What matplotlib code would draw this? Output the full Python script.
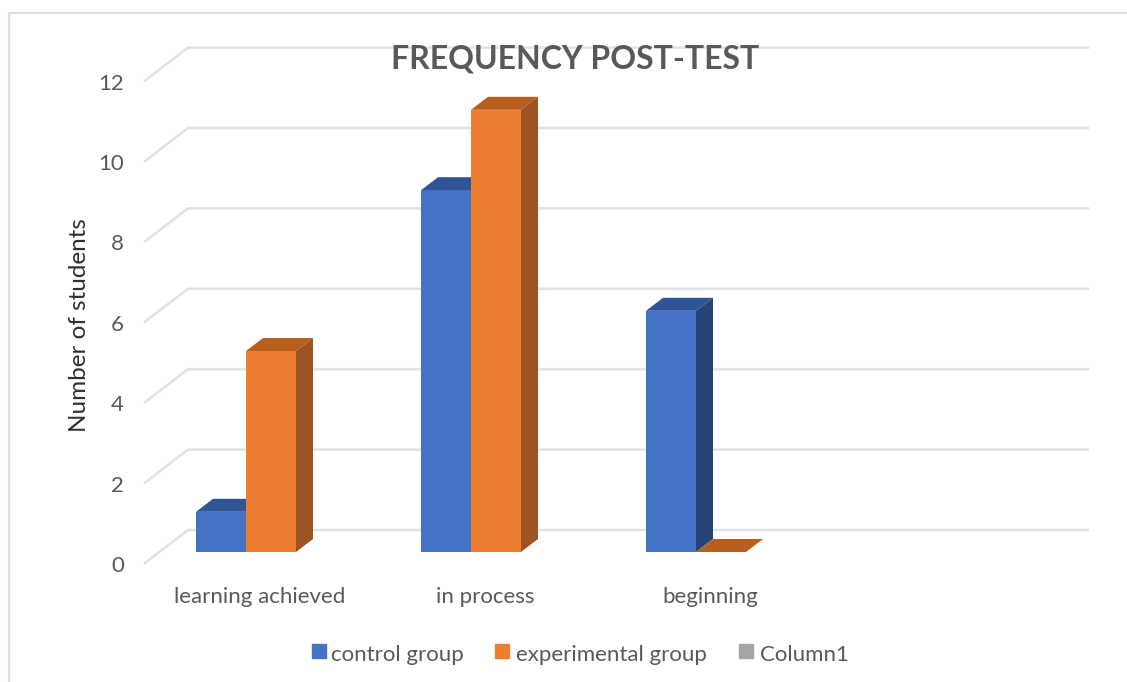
import matplotlib
matplotlib.use("Agg")
import matplotlib.pyplot as plt

categories = ["learning achieved", "in process", "beginning"]
control = [1, 9, 6]
experimental = [5, 11, 0]
y_ticks = [0, 2, 4, 6, 8, 10, 12]
series_names = ["control group", "experimental group", "Column1"]

plt.rcParams["font.family"] = ["Lato", "DejaVu Sans"]
W, H = 1127, 682
GREY = "#595959"

fig = plt.figure(figsize=(W / 100, H / 100), dpi=100)
ax = fig.add_axes([0, 0, 1, 1])

# one category is 225 px, one unit on y about 40.2 px, zero sits at y=552 px
ux = 225.0
uy = 40.2
ax.set_xlim(-246 / ux, (W - 246) / ux)
ax.set_ylim(-(H - 552) / uy, 552 / uy)
ax.axis("off")

# how far the 3d depth shifts things
bar_dx, bar_dy = 17 / ux, 13 / uy
wall_dx, wall_dy = 43 / ux, 33 / uy
wall_x0 = (145 - 246) / ux
wall_len = 900 / ux
floor = -11 / uy

# gridlines, side wall part then back wall part
for v in y_ticks:
    y0 = v + floor
    ax.plot([wall_x0, wall_x0 + wall_dx, wall_x0 + wall_dx + wall_len],
            [y0, y0 + wall_dy, y0 + wall_dy],
            color="#e2e2e2", lw=1.8, solid_joinstyle="miter", zorder=1)
    ax.text((124 - 246) / ux, v + floor - 3 / uy, str(v), ha="right", va="center",
            fontsize=16, color=GREY)


def bar3d(x0, h, front, top, side, z):
    w = 50 / ux
    ax.bar(x0, h, w, align="edge", color=front, zorder=z)
    ax.fill([x0, x0 + w, x0 + w + bar_dx, x0 + bar_dx],
            [h, h, h + bar_dy, h + bar_dy], color=top, lw=0, zorder=z)
    ax.fill([x0 + w, x0 + w + bar_dx, x0 + w + bar_dx, x0 + w],
            [0, bar_dy, h + bar_dy, h], color=side, lw=0, zorder=z)


for i in range(len(categories)):
    bar3d(i - 50 / ux, control[i], "#4472c4", "#2f5597", "#264478", 2 + i * 2)
    bar3d(i, experimental[i], "#ed7d31", "#b85f20", "#9e5421", 3 + i * 2)
    ax.text(i + 14 / ux, -45 / uy, categories[i], ha="center", va="center",
            fontsize=16, color=GREY)

fig.text(575 / W, 1 - 59 / H, "FREQUENCY POST-TEST", ha="center", va="center",
         fontsize=23, fontweight="bold", color=GREY)
fig.text(80 / W, 1 - 325 / H, "Number of students", rotation=90, ha="center",
         va="center", fontsize=17.5, color="#303030")

# legend by hand, excel spacing
legend_x = [312, 495, 739]
legend_text_x = [331, 516, 760]
legend_col = ["#4472c4", "#ed7d31", "#a5a5a5"]
for i in range(3):
    fig.patches.append(plt.Rectangle((legend_x[i] / W, 1 - 658 / H), 14 / W, 14 / H,
                                     transform=fig.transFigure, color=legend_col[i]))
    fig.text(legend_text_x[i] / W, 1 - 655 / H, series_names[i], va="center",
             fontsize=16, color=GREY)

# chart border, only top and left are in the crop
fig.add_artist(plt.Line2D([9 / W, 9 / W, 1], [0, 1 - 13 / H, 1 - 13 / H],
                          color="#dcdcdc", lw=1.5))

fig.savefig("out.png", dpi=100)
